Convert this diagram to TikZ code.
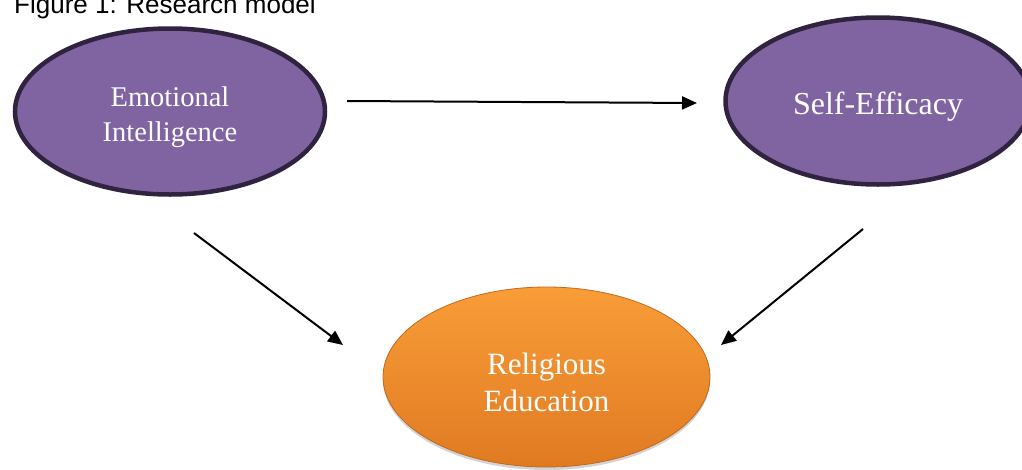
\documentclass[tikz,border=0pt]{standalone}
\usepackage{fontspec}
\setmainfont{Liberation Serif}
\newfontfamily\titlefont{Liberation Sans}
\usetikzlibrary{shapes.geometric,arrows.meta,shadows}
\definecolor{purplefill}{HTML}{8064A2}
\definecolor{purpleline}{HTML}{30233F}
\definecolor{orangetop}{HTML}{F99D38}
\definecolor{orangebot}{HTML}{E07A22}
\definecolor{orangeline}{HTML}{C06A1E}
\tikzset{
  purplebox/.style={ellipse, draw=purpleline, fill=purplefill, line width=4.5pt,
    text=white, align=center, inner sep=0pt},
  orangebox/.style={ellipse, draw=orangeline, line width=0.8pt,
    top color=orangetop, bottom color=orangebot, text=white, align=center, inner sep=0pt,
    drop shadow={opacity=0.35, shadow xshift=0pt, shadow yshift=-3pt}},
  link/.style={line width=2pt, -{Triangle[length=15pt, width=13pt]}}
}
\begin{document}
\begin{tikzpicture}[x=1pt,y=-1pt]
\useasboundingbox (0,0) rectangle (1022,469);
\node[anchor=base west, inner sep=0pt, font=\titlefont\fontsize{26}{30}\selectfont] (title) at (14,13) {Figure 1: Research model};
\node[purplebox, minimum width=310pt, minimum height=166pt,
  font=\fontsize{28.5}{35}\selectfont] (ei) at (170,111.5) {\rule{0pt}{31pt}Emotional\\Intelligence};
\node[purplebox, minimum width=305pt, minimum height=167pt,
  font=\fontsize{32}{38}\selectfont] (se) at (878,101) {\rule{0pt}{34pt}Self-Efficacy};
\node[orangebox, minimum width=327pt, minimum height=180pt,
  font=\fontsize{31}{37}\selectfont] (re) at (546.5,377) {\rule{0pt}{32pt}Religious\\Education};
\coordinate (a1s) at (347,101);
\coordinate (a1e) at (697,103);
\coordinate (a2s) at (194,233);
\coordinate (a2e) at (343,345);
\coordinate (a3s) at (863,229);
\coordinate (a3e) at (721,345);
\draw[link] (a1s) -- (a1e);
\draw[link] (a2s) -- (a2e);
\draw[link] (a3s) -- (a3e);
\end{tikzpicture}
\end{document}
